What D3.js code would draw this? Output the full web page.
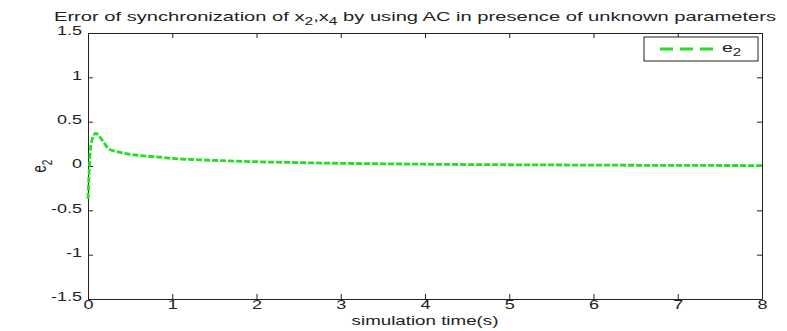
<!DOCTYPE html>
<html>
<head>
<meta charset="utf-8">
<title>e2 sync error</title>
<style>
  * { margin: 0; padding: 0; }
  body { background: #fff; }
  svg { display: block; font-family: "Liberation Sans", Arial, sans-serif; }
  .axis text { font-size: 12px; fill: #222; }
  .axis path, .axis line { stroke: #222; }
</style>
</head>
<body>
<svg id="chart"></svg>
<script src="https://cdnjs.cloudflare.com/ajax/libs/d3/7.8.5/d3.min.js"></script>
<script>
  // values
  const time = [0, 0.01, 0.02, 0.03, 0.05, 0.07, 0.09, 0.12, 0.17, 0.25, 0.35, 0.45, 0.6, 0.84, 1.0, 1.32, 1.6, 2.0, 2.5, 3.0, 3.5, 4.0, 5.0, 6.0, 7.0, 8.0];
  const e2 = [-0.37, -0.15, 0.05, 0.2, 0.3, 0.35, 0.37, 0.35, 0.29, 0.19, 0.16, 0.14, 0.12, 0.1, 0.085, 0.07, 0.06, 0.048, 0.038, 0.03, 0.025, 0.02, 0.014, 0.01, 0.007, 0.005];
  const xTicks = [0, 1, 2, 3, 4, 5, 6, 7, 8];
  const yTicks = [-1.5, -1, -0.5, 0, 0.5, 1, 1.5];

  const W = 787, H = 331;
  const m = { top: 33, right: 25, bottom: 32, left: 88 };
  const SX = 1.5; // text in the original is stretched sideways

  const svg = d3.select('#chart').attr('width', W).attr('height', H);

  const x = d3.scaleLinear().domain([0, 8]).range([m.left, W - m.right]);
  const y = d3.scaleLinear().domain([-1.5, 1.5]).range([H - m.bottom, m.top]);

  const fmt = d => String(d);

  svg.append('g').attr('class', 'axis')
    .attr('transform', `translate(0,${H - m.bottom})`)
    .call(d3.axisBottom(x).tickValues(xTicks).tickFormat(fmt).tickSizeInner(-5).tickSizeOuter(0).tickPadding(1))
    .selectAll('text').attr('transform', `scale(${SX},1)`);
  svg.append('g').attr('class', 'axis')
    .attr('transform', `translate(0,${m.top})`)
    .call(d3.axisTop(x).tickValues(xTicks).tickFormat('').tickSizeInner(-5).tickSizeOuter(0));
  svg.append('g').attr('class', 'axis')
    .attr('transform', `translate(${m.left},0)`)
    .call(d3.axisLeft(y).tickValues(yTicks).tickFormat(fmt).tickSizeInner(-5).tickSizeOuter(0))
    .selectAll('text').attr('x', 0).attr('transform', `translate(-6,-2) scale(${SX},1)`);
  svg.append('g').attr('class', 'axis')
    .attr('transform', `translate(${W - m.right},0)`)
    .call(d3.axisRight(y).tickValues(yTicks).tickFormat('').tickSizeInner(-5).tickSizeOuter(0));

  // the series
  const line = d3.line()
    .x((d, i) => x(time[i]))
    .y(d => y(d))
    .curve(d3.curveMonotoneX);

  svg.append('path')
    .datum(e2)
    .attr('d', line)
    .attr('fill', 'none')
    .attr('stroke', '#22e022')
    .attr('stroke-width', 2.8)
    .attr('stroke-dasharray', '6,2');

  // title + labels
  svg.append('text')
    .attr('transform', `translate(415,21) scale(1.55,1)`)
    .attr('text-anchor', 'middle').style('font-size', '13px').attr('fill', '#222')
    .html('Error of synchronization of x<tspan dy="4" font-size="10">2</tspan><tspan dy="-4">,x</tspan><tspan dy="4" font-size="10">4</tspan><tspan dy="-4"> by using AC in presence of unknown parameters</tspan>');

  svg.append('text')
    .attr('transform', `translate(${(m.left + W - m.right) / 2},325) scale(${SX},1)`)
    .attr('text-anchor', 'middle').style('font-size', '12.5px').attr('fill', '#222')
    .text('simulation time(s)');

  svg.append('text')
    .attr('transform', `translate(46,${y(0)}) rotate(-90) scale(1,${SX})`)
    .attr('text-anchor', 'middle').style('font-size', '13px').attr('fill', '#222')
    .html('e<tspan dy="4" font-size="10">2</tspan>');

  // legend
  const lg = svg.append('g').attr('transform', 'translate(644,37)');
  lg.append('rect').attr('width', 114).attr('height', 24)
    .attr('fill', '#fff').attr('stroke', '#222');
  lg.append('line').attr('x1', 16).attr('x2', 70).attr('y1', 12).attr('y2', 12)
    .attr('stroke', '#22e022').attr('stroke-width', 2.8).attr('stroke-dasharray', '13,7');
  lg.append('text').attr('transform', `translate(78,15) scale(${SX},1)`)
    .style('font-size', '13px').attr('fill', '#222')
    .html('e<tspan dy="4" font-size="10">2</tspan>');
</script>
</body>
</html>
